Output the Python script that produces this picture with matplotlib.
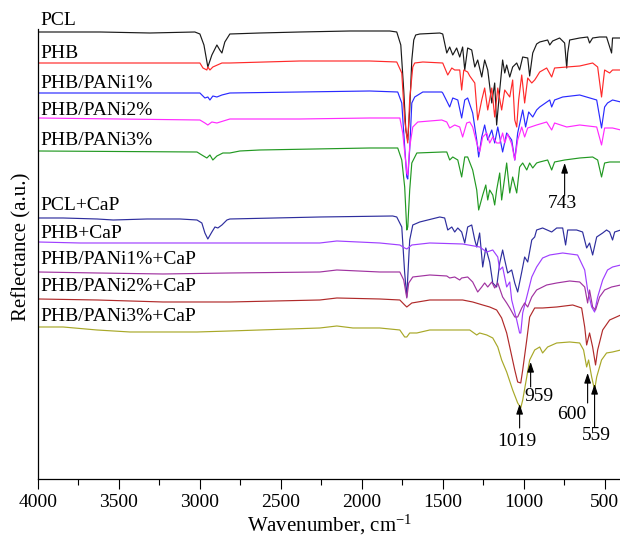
import matplotlib
matplotlib.use("Agg")
import matplotlib.pyplot as plt
from matplotlib.ticker import MultipleLocator

plt.rcParams.update({'font.size': 14, 'font.family': 'Liberation Serif',
                     'mathtext.fontset': 'custom', 'mathtext.rm': 'Liberation Serif',
                     'mathtext.it': 'Liberation Serif:italic'})

# spectra: wavenumber (cm-1) and reflectance (a.u., offset stacked)
pcl_wn = [4000, 3615, 3309, 3031, 3000, 2975, 2951, 2926, 2895, 2877, 2864, 2846, 2815, 2630,
          2383, 2074, 1827, 1784, 1759, 1741, 1728, 1716, 1704, 1691, 1679, 1667, 1642, 1518,
          1500, 1475, 1457, 1438, 1414, 1395, 1377, 1364, 1346, 1321, 1302, 1284, 1259, 1241,
          1222, 1197, 1179, 1167, 1148, 1130, 1117, 1105, 1086, 1068, 1043, 1025, 1006, 975,
          963, 944, 920, 901, 852, 839, 821, 778, 747, 734, 728, 716, 654, 605, 593, 574, 531,
          488, 457, 451, 400]
pcl_r = [447, 447, 446, 447, 445, 434, 412, 424, 434, 429, 426, 437, 445, 446,
         447, 448, 448, 447, 434, 389, 349, 339, 369, 419, 439, 444, 445, 446,
         445, 426, 432, 424, 431, 422, 432, 409, 431, 429, 412, 419, 402, 419,
         409, 376, 396, 354, 389, 419, 406, 414, 402, 412, 416, 409, 422, 421,
         403, 426, 435, 437, 439, 434, 438, 441, 436, 411, 426, 439, 441, 442, 436, 441, 442,
         442, 426, 441, 441]

phb_wn = [4000, 3309, 3000, 2981, 2957, 2951, 2938, 2920, 2864, 2815, 2383, 1951, 1784, 1753,
          1735, 1722, 1716, 1704, 1685, 1673, 1623, 1500, 1469, 1444, 1426, 1395, 1383, 1370,
          1346, 1333, 1302, 1284, 1259, 1241, 1222, 1197, 1179, 1160, 1136, 1117, 1086, 1068,
          1055, 1043, 1031, 1012, 994, 975, 950, 932, 920, 901, 858, 827, 809, 734, 654, 574,
          543, 519, 500, 469, 451, 400]
phb_r = [416, 416, 416, 411, 409, 412, 409, 412, 416, 416, 418, 418, 417, 406,
         359, 342, 336, 380, 412, 416, 417, 416, 404, 411, 409, 409, 389, 409,
         407, 403, 396, 359, 379, 391, 369, 391, 362, 391, 369, 389, 382, 399,
         359, 352, 379, 404, 376, 401, 396, 399, 402, 407, 411, 402, 411, 412, 413, 416,
         412, 382, 409, 406, 409, 409]

pani1_wn = [4000, 3000, 2969, 2951, 2938, 2920, 2895, 2864, 2815, 2383, 1951, 1778, 1753, 1735,
            1722, 1716, 1704, 1691, 1673, 1623, 1506, 1500, 1469, 1457, 1438, 1407, 1383, 1364,
            1346, 1315, 1290, 1278, 1259, 1241, 1222, 1197, 1179, 1160, 1136, 1130, 1105, 1074,
            1055, 1037, 1006, 988, 969, 944, 920, 901, 839, 827, 809, 759, 654, 549, 519, 500,
            482, 451, 400]
pani1_r = [386, 386, 381, 382, 379, 383, 382, 384, 386, 387, 388, 387, 376, 332,
           302, 300, 330, 376, 382, 387, 387, 386, 376, 372, 381, 379, 361, 379,
           381, 366, 339, 322, 342, 354, 339, 349, 336, 352, 332, 327, 346, 339,
           319, 346, 369, 352, 367, 362, 369, 372, 379, 372, 379, 382, 384, 379, 351, 372,
           376, 379, 377]

pani2_wn = [4000, 3000, 2969, 2951, 2926, 2895, 2815, 2383, 1951, 1765, 1747, 1728, 1722, 1716,
            1704, 1685, 1654, 1506, 1475, 1457, 1426, 1395, 1377, 1352, 1333, 1315, 1290, 1272,
            1253, 1228, 1210, 1191, 1167, 1148, 1130, 1117, 1099, 1074, 1055, 1037, 1012, 994,
            975, 920, 858, 827, 809, 734, 654, 549, 519, 500, 451, 400]
pani2_r = [361, 359, 356, 354, 357, 356, 360, 360, 361, 361, 346, 316, 306, 304,
           332, 352, 357, 359, 357, 351, 354, 352, 342, 356, 357, 352, 336, 327,
           342, 346, 336, 342, 336, 336, 346, 336, 345, 335, 319, 339, 352, 342,
           351, 354, 357, 349, 356, 352, 354, 352, 334, 351, 351, 349]

pani3_wn = [4000, 3018, 2988, 2957, 2938, 2920, 2895, 2858, 2815, 2753, 2630, 1951, 1778, 1753,
            1735, 1722, 1716, 1704, 1691, 1660, 1500, 1475, 1457, 1438, 1407, 1383, 1364, 1346,
            1315, 1290, 1278, 1253, 1234, 1222, 1210, 1191, 1179, 1167, 1148, 1136, 1105, 1086,
            1068, 1043, 1025, 1006, 981, 963, 944, 920, 901, 852, 827, 809, 747, 654, 574, 543,
            519, 500, 469, 400]
pani3_r = [328, 327, 324, 321, 324, 319, 323, 326, 326, 328, 329, 331, 331, 319,
           292, 249, 252, 289, 316, 326, 327, 327, 319, 322, 319, 302, 322, 322,
           309, 289, 269, 284, 294, 279, 289, 284, 274, 289, 306, 279, 316, 286,
           302, 286, 312, 316, 309, 316, 311, 316, 317, 319, 309, 317, 319, 321, 322, 319,
           302, 316, 317, 317]

pcl_cap_wn = [4000, 3845, 3635, 3535, 3327, 3123, 3018, 2988, 2969, 2951, 2926, 2907, 2889, 2864,
              2833, 2815, 2259, 1809, 1784, 1753, 1735, 1722, 1716, 1704, 1685, 1642, 1518, 1488,
              1469, 1444, 1426, 1407, 1383, 1364, 1346, 1321, 1302, 1290, 1272, 1253, 1234, 1210,
              1191, 1167, 1148, 1130, 1117, 1099, 1074, 1055, 1037, 1012, 994, 975, 950, 932, 920,
              883, 827, 796, 759, 741, 728, 673, 636, 611, 593, 574, 549, 512, 488, 469, 451, 438,
              400]
pcl_cap_r = [261, 261, 260, 259, 260, 260, 259, 256, 246, 240, 247, 252, 251, 254,
             259, 260, 262, 263, 262, 252, 206, 182, 202, 239, 254, 257, 262, 261,
             249, 252, 247, 251, 247, 236, 252, 254, 239, 232, 246, 212, 231, 217,
             196, 192, 216, 229, 219, 206, 209, 196, 187, 207, 222, 217, 239, 242, 249,
             251, 247, 251, 251, 234, 249, 249, 247, 231, 236, 224, 242, 246, 249, 247, 239, 247,
             249]

phb_cap_wn = [4000, 3740, 3327, 3018, 2815, 2753, 2259, 2154, 1889, 1765, 1735, 1722, 1691, 1580,
              1377, 1272, 1228, 1191, 1160, 1148, 1130, 1105, 1086, 1074, 1043, 1025, 1018, 1006,
              981, 950, 920, 883, 839, 759, 667, 623, 605, 580, 562, 543, 512, 482, 451, 400]
phb_cap_r = [237, 236, 236, 236, 236, 236, 236, 238, 236, 234, 231, 230, 234, 236,
             235, 232, 227, 229, 222, 209, 212, 192, 197, 179, 159, 146, 146, 166,
             182, 202, 212, 221, 224, 226, 224, 209, 189, 172, 167, 182, 199, 209, 212, 214]

pani1_cap_wn = [4000, 3636, 3228, 2815, 2259, 2154, 1889, 1765, 1741, 1722, 1710, 1685, 1580, 1475,
                1457, 1426, 1395, 1383, 1346, 1315, 1284, 1259, 1241, 1222, 1197, 1179, 1160, 1130,
                1105, 1086, 1055, 1037, 1012, 994, 975, 950, 920, 858, 796, 716, 654, 623, 605, 593,
                574, 556, 531, 500, 457, 400]
pani1_cap_r = [207, 206, 205, 206, 207, 209, 207, 207, 199, 181, 196, 202, 204, 203,
               201, 202, 199, 201, 202, 197, 187, 192, 196, 192, 197, 191, 196, 182,
               176, 171, 162, 162, 171, 176, 172, 182, 189, 194, 196, 198, 197, 192, 176, 189,
               172, 169, 182, 189, 192, 194]

pani2_cap_wn = [4000, 3636, 3228, 2815, 2259, 2154, 1889, 1765, 1735, 1722, 1691, 1580, 1377, 1315,
                1253, 1210, 1167, 1136, 1105, 1086, 1055, 1037, 1018, 1006, 981, 963, 932, 883, 796,
                697, 642, 623, 611, 593, 574, 556, 543, 512, 469, 400]
pani2_cap_r = [180, 179, 177, 177, 179, 181, 180, 179, 174, 172, 176, 179, 179, 177,
               174, 172, 169, 161, 146, 132, 109, 97, 96, 109, 139, 162, 171, 171, 172,
               174, 171, 152, 134, 146, 132, 114, 129, 149, 159, 164]

pani3_cap_wn = [4000, 3845, 3636, 3432, 3018, 2815, 2259, 2154, 2055, 1889, 1765, 1735, 1722, 1704,
                1660, 1580, 1333, 1290, 1272, 1228, 1191, 1160, 1136, 1105, 1068, 1037, 1018, 1006,
                981, 963, 932, 901, 883, 852, 796, 716, 654, 630, 611, 599, 580, 562, 549, 519, 488,
                451, 400]
pani3_cap_r = [152, 152, 149, 147, 147, 148, 151, 153, 151, 151, 149, 142, 142, 146,
               146, 149, 149, 144, 146, 144, 141, 132, 119, 107, 89, 76, 71, 79,
               102, 119, 129, 132, 126, 132, 136, 137, 136, 129, 112, 119, 102, 89, 102, 119, 126,
               127, 129]

series = [
    ("PCL", pcl_wn, pcl_r, "#1a1a1a", 454),
    ("PHB", phb_wn, phb_r, "#ff2a2a", 421),
    ("PHB/PANi1%", pani1_wn, pani1_r, "#2a2aff", 391),
    ("PHB/PANi2%", pani2_wn, pani2_r, "#ff2aff", 364),
    ("PHB/PANi3%", pani3_wn, pani3_r, "#229922", 334),
    ("PCL+CaP", pcl_cap_wn, pcl_cap_r, "#2e2e9e", 269),
    ("PHB+CaP", phb_cap_wn, phb_cap_r, "#9f3fff", 241),
    ("PHB/PANi1%+CaP", pani1_cap_wn, pani1_cap_r, "#a033a0", 215),
    ("PHB/PANi2%+CaP", pani2_cap_wn, pani2_cap_r, "#b02a2a", 188),
    ("PHB/PANi3%+CaP", pani3_cap_wn, pani3_cap_r, "#a8a828", 158),
]

# peak marks: label, arrow x, arrow tail y, arrow tip y, text x, text y
peaks = [
    ("743", 747, 283, 316, 759, 275),
    ("1019", 1025, 51, 75, 1043, 37),
    ("959", 957, 92, 117, 907, 82),
    ("600", 605, 76, 106, 704, 64),
    ("559", 562, 52, 95, 549, 43),
]

fig = plt.figure(figsize=(6.2, 5.38), dpi=100)
ax = fig.add_axes([0.0613, 0.1097, 0.940, 0.8364])

for name, wn, r, col, ly in series:
    ax.plot(wn, r, color=col, lw=0.85)
    ax.text(3988, ly, name, fontsize=14, va='baseline', ha='left')

for lab, xa, y0, y1, xt, yt in peaks:
    ax.annotate('', xy=(xa, y1), xytext=(xa, y0),
                arrowprops=dict(arrowstyle='-|>,head_length=0.6,head_width=0.2',
                                color='black', lw=0.8, mutation_scale=10,
                                shrinkA=0, shrinkB=0))
    ax.text(xt, yt, lab, fontsize=14, ha='center', va='center')

ax.set_xlim(4000, 400)
ax.set_ylim(0, 450)
ax.xaxis.set_minor_locator(MultipleLocator(250))
ax.set_xticks([4000, 3500, 3000, 2500, 2000, 1500, 1000, 500])
ax.tick_params(axis='x', which='major', length=7, width=0.8, direction='out', pad=4)
ax.tick_params(axis='x', which='minor', length=4, width=0.8, direction='out')
ax.set_yticks([])
ax.spines['top'].set_visible(False)
ax.spines['right'].set_visible(False)
ax.spines['left'].set_linewidth(0.9)
ax.spines['bottom'].set_linewidth(0.9)

ax.set_xlabel(r"Wavenumber, cm$^{-1}$", fontsize=15, labelpad=1)
ax.set_ylabel("Reflectance (a.u.)", fontsize=15)
ax.yaxis.set_label_coords(-0.011, 0.516)

fig.savefig("out.png", dpi=100)
